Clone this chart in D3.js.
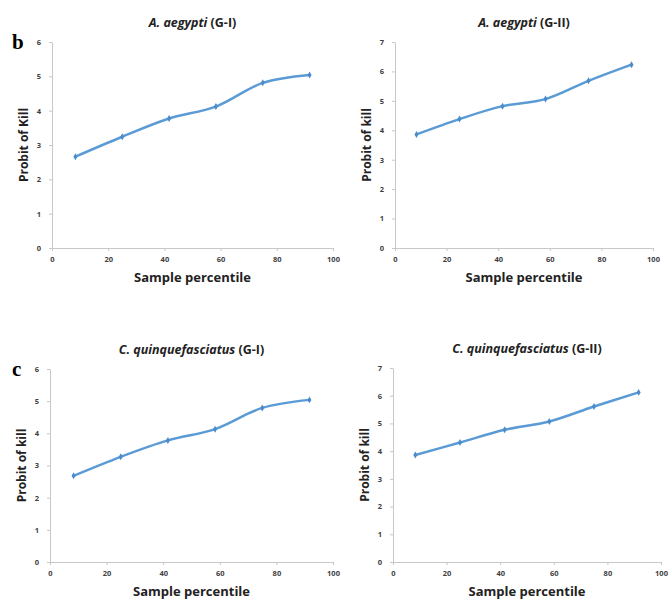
<!DOCTYPE html>
<html>
<head>
<meta charset="utf-8">
<script src="https://cdn.jsdelivr.net/npm/d3@7"></script>
<style>
  body { margin: 0; background: #fff; }
  svg { display: block; }
  .tick text { font-family: "Open Sans", sans-serif; font-weight: bold; font-size: 7.5px; fill: #404040; }
  .domain, .tick line { stroke: #c8c8c8; }
  .aText { font-family: "Open Sans", sans-serif; font-weight: bold; fill: #222; }
</style>
</head>
<body>
<div id="chart"></div>
<script>
var percentiles = [8.33, 25, 41.67, 58.33, 75, 91.67];
var aegyptiG1 = [2.66, 3.24, 3.77, 4.12, 4.81, 5.04];
var aegyptiG2 = [3.86, 4.38, 4.82, 5.06, 5.68, 6.23];
var culexG1 = [2.68, 3.27, 3.78, 4.13, 4.79, 5.04];
var culexG2 = [3.86, 4.31, 4.77, 5.07, 5.61, 6.12];
var xTicks = [0, 20, 40, 60, 80, 100];

var svgWidth = 672;
var svgHeight = 601;

var svg = d3.select("#chart")
  .append("svg")
  .attr("width", svgWidth)
  .attr("height", svgHeight);

// plot boxes for each panel
var panels = [
  { species: "A. aegypti", group: "(G-I)", values: aegyptiG1, yMax: 6, yLabel: "Probit of Kill",
    left: 52, right: 333, top: 42, bottom: 248, letter: "b" },
  { species: "A. aegypti", group: "(G-II)", values: aegyptiG2, yMax: 7, yLabel: "Probit of kill",
    left: 395, right: 653, top: 42, bottom: 248 },
  { species: "C. quinquefasciatus", group: "(G-I)", values: culexG1, yMax: 6, yLabel: "Probit of kill",
    left: 50, right: 333, top: 369, bottom: 562, letter: "c" },
  { species: "C. quinquefasciatus", group: "(G-II)", values: culexG2, yMax: 7, yLabel: "Probit of kill",
    left: 393, right: 661, top: 368, bottom: 562 }
];

panels.forEach(function(p) {
  var x = d3.scaleLinear().domain([0, 100]).range([p.left, p.right]);
  var y = d3.scaleLinear().domain([0, p.yMax]).range([p.bottom, p.top]);
  var g = svg.append("g");

  g.append("g")
    .attr("transform", `translate(0, ${p.bottom})`)
    .call(d3.axisBottom(x).tickValues(xTicks).tickSize(3).tickSizeOuter(0).tickPadding(6));

  g.append("g")
    .attr("transform", `translate(${p.left}, 0)`)
    .call(d3.axisLeft(y).ticks(p.yMax).tickSize(3).tickSizeOuter(0).tickPadding(8));

  var pts = percentiles.map((d, i) => [x(d), y(p.values[i])]);

  g.append("path")
    .attr("d", d3.line().curve(d3.curveCatmullRom.alpha(0.5))(pts))
    .attr("fill", "none")
    .attr("stroke", "#5b9bd5")
    .attr("stroke-width", 2.5);

  g.selectAll(".mark")
    .data(pts)
    .enter()
    .append("path")
    .attr("transform", d => `translate(${d[0]}, ${d[1]})`)
    .attr("d", d3.symbol(d3.symbolDiamond, 14))
    .attr("fill", "#4a8ccb");

  var cx = (p.left + p.right) / 2;

  var title = g.append("text")
    .attr("class", "aText")
    .attr("x", cx)
    .attr("y", p.top - 15)
    .attr("text-anchor", "middle")
    .attr("font-size", "12.5px");
  title.append("tspan").attr("font-style", "italic").text(p.species);
  title.append("tspan").text(" " + p.group);

  g.append("text")
    .attr("class", "aText")
    .attr("x", cx)
    .attr("y", p.bottom + 34)
    .attr("text-anchor", "middle")
    .attr("font-size", "13px")
    .text("Sample percentile");

  g.append("text")
    .attr("class", "aText")
    .attr("transform", `translate(${p.left - 24}, ${(p.top + p.bottom) / 2}) rotate(-90)`)
    .attr("text-anchor", "middle")
    .attr("font-size", "12px")
    .text(p.yLabel);

  if (p.letter) {
    g.append("text")
      .attr("x", 12)
      .attr("y", p.top + 7)
      .attr("font-family", "Liberation Serif, serif")
      .attr("font-weight", "bold")
      .attr("font-size", "21px")
      .text(p.letter);
  }
});
</script>
</body>
</html>
